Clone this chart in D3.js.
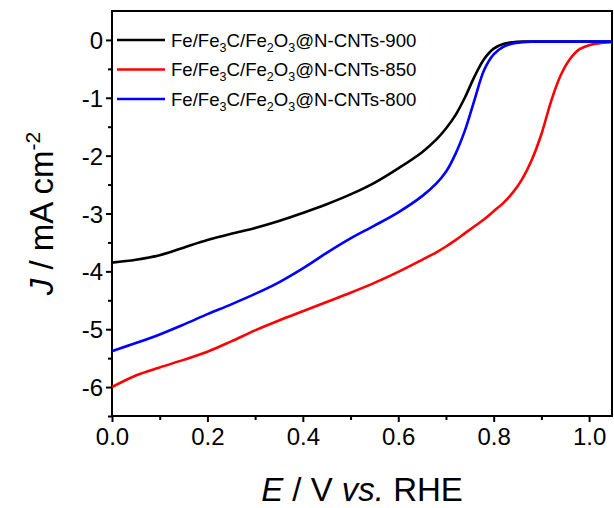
<!DOCTYPE html>
<html>
<head>
<meta charset="utf-8">
<title>LSV curves</title>
<style>
  body { margin: 0; background: #fff; }
  text { font-family: Arial, "Liberation Sans", sans-serif; fill: #000; }
  .axis path, .axis line { stroke: #000; stroke-width: 2; }
  .axis text { font-size: 24px; }
  .curve { fill: none; stroke-width: 2.6; }
</style>
</head>
<body>
<svg id="chart"></svg>
<script src="https://cdnjs.cloudflare.com/ajax/libs/d3/7.8.5/d3.min.js"></script>
<script>
// potential (V vs. RHE)
var potential = [0, 0.05, 0.1, 0.15, 0.2, 0.25, 0.3, 0.35, 0.4, 0.45, 0.5, 0.55, 0.6,
  0.65, 0.68, 0.7, 0.72, 0.74, 0.76, 0.78, 0.8, 0.82, 0.84, 0.86, 0.88, 0.9,
  0.92, 0.94, 0.96, 0.98, 1.0, 1.02, 1.05];

// current density (mA cm-2)
var j900 = [-3.85, -3.8, -3.72, -3.59, -3.46, -3.35, -3.25, -3.13, -2.99, -2.84, -2.67, -2.47, -2.22,
  -1.94, -1.72, -1.53, -1.3, -0.99, -0.63, -0.33, -0.15, -0.07, -0.04, -0.03, -0.03, -0.03,
  -0.03, -0.03, -0.03, -0.03, -0.03, -0.03, -0.03];
var j850 = [-6.0, -5.8, -5.66, -5.53, -5.39, -5.21, -5.02, -4.85, -4.69, -4.53, -4.37, -4.2, -4.01,
  -3.8, -3.67, -3.57, -3.46, -3.34, -3.22, -3.1, -2.96, -2.82, -2.64, -2.4, -2.07, -1.63,
  -1.07, -0.62, -0.33, -0.16, -0.09, -0.06, -0.04];
var j800 = [-5.38, -5.24, -5.09, -4.92, -4.74, -4.57, -4.39, -4.19, -3.95, -3.68, -3.43, -3.21, -2.98,
  -2.7, -2.48, -2.28, -1.97, -1.56, -1.03, -0.52, -0.25, -0.12, -0.06, -0.04, -0.03, -0.03,
  -0.03, -0.03, -0.03, -0.03, -0.03, -0.03, -0.03];

var seriesNames = ["900", "850", "800"];
var seriesColors = ["#000000", "#ff0000", "#0000ff"];
var seriesValues = [j900, j850, j800];

var xTicks = [0, 0.2, 0.4, 0.6, 0.8, 1.0];
var xMinor = [0.1, 0.3, 0.5, 0.7, 0.9];
var yTicks = [0, -1, -2, -3, -4, -5, -6];
var yMinor = [-0.5, -1.5, -2.5, -3.5, -4.5, -5.5, -6.5];

var width = 614, height = 508;
var margin = {top: 11, right: 2, bottom: 92, left: 112};

var svg = d3.select("#chart")
  .attr("width", width)
  .attr("height", height);

var x = d3.scaleLinear().domain([0, 1.048]).range([margin.left, width - margin.right]);
var y = d3.scaleLinear().domain([-6.5, 0.5]).range([height - margin.bottom, margin.top]);

// frame
svg.append("rect")
  .attr("x", x(0)).attr("y", y(0.5))
  .attr("width", x(1.048) - x(0)).attr("height", y(-6.5) - y(0.5))
  .attr("fill", "none").attr("stroke", "#000").attr("stroke-width", 2);

// minor ticks
svg.append("g").attr("class", "axis")
  .attr("transform", "translate(0," + y(-6.5) + ")")
  .call(d3.axisBottom(x).tickValues(xMinor).tickSize(4).tickFormat(""))
  .select(".domain").remove();
svg.append("g").attr("class", "axis")
  .attr("transform", "translate(" + x(0) + ",0)")
  .call(d3.axisLeft(y).tickValues(yMinor).tickSize(4).tickFormat(""))
  .select(".domain").remove();

// major ticks
var xAxis = svg.append("g").attr("class", "axis")
  .attr("transform", "translate(0," + y(-6.5) + ")")
  .call(d3.axisBottom(x).tickValues(xTicks).tickSize(6).tickSizeOuter(0).tickPadding(6)
    .tickFormat(d3.format(".1f")));
xAxis.select(".domain").remove();

var yAxis = svg.append("g").attr("class", "axis")
  .attr("transform", "translate(" + x(0) + ",0)")
  .call(d3.axisLeft(y).tickValues(yTicks).tickSize(6).tickSizeOuter(0).tickPadding(3)
    .tickFormat(function(d) { return d === 0 ? "0" : "-" + Math.abs(d); }));
yAxis.select(".domain").remove();
yAxis.selectAll("text").attr("dy", "0.36em");

// curves
var line = d3.line()
  .x(function(d) { return x(d[0]); })
  .y(function(d) { return y(d[1]); })
  .curve(d3.curveCatmullRom.alpha(0.5));

svg.append("defs").append("clipPath").attr("id", "clip")
  .append("rect")
  .attr("x", x(0)).attr("y", y(0.5))
  .attr("width", x(1.048) - x(0)).attr("height", y(-6.5) - y(0.5));

var plot = svg.append("g").attr("clip-path", "url(#clip)");
seriesValues.forEach(function(vals, i) {
  plot.append("path")
    .attr("class", "curve")
    .attr("stroke", seriesColors[i])
    .attr("d", line(potential.map(function(p, k) { return [p, vals[k]]; })));
});

// legend
var legend = svg.append("g");
seriesNames.forEach(function(name, i) {
  var ly = 40 + i * 29.5;
  legend.append("line")
    .attr("x1", 117).attr("x2", 165).attr("y1", ly).attr("y2", ly)
    .attr("stroke", seriesColors[i]).attr("stroke-width", 2.6);
  var t = legend.append("text")
    .attr("x", 171).attr("y", ly + 6.5)
    .style("font-size", "18.6px");
  t.append("tspan").text("Fe/Fe");
  t.append("tspan").attr("dy", 5).style("font-size", "12.5px").text("3");
  t.append("tspan").attr("dy", -5).text("C/Fe");
  t.append("tspan").attr("dy", 5).style("font-size", "12.5px").text("2");
  t.append("tspan").attr("dy", -5).text("O");
  t.append("tspan").attr("dy", 5).style("font-size", "12.5px").text("3");
  t.append("tspan").attr("dy", -5).text("@N-CNTs-" + name);
});

// axis titles
var xt = svg.append("text")
  .attr("x", (x(0) + x(1.048)) / 2).attr("y", 501)
  .attr("text-anchor", "middle")
  .style("font-size", "33px");
xt.append("tspan").style("font-style", "italic").text("E");
xt.append("tspan").text(" / V ");
xt.append("tspan").style("font-style", "italic").text("vs.");
xt.append("tspan").text(" RHE");

var yt = svg.append("text")
  .attr("transform", "translate(53," + (y(0.5) + y(-6.5)) / 2 + ") rotate(-90)")
  .attr("text-anchor", "middle")
  .style("font-size", "33px");
yt.append("tspan").style("font-style", "italic").text("J");
yt.append("tspan").text(" / mA cm");
yt.append("tspan").attr("dy", -13).style("font-size", "21px").text("-2");
</script>
</body>
</html>
